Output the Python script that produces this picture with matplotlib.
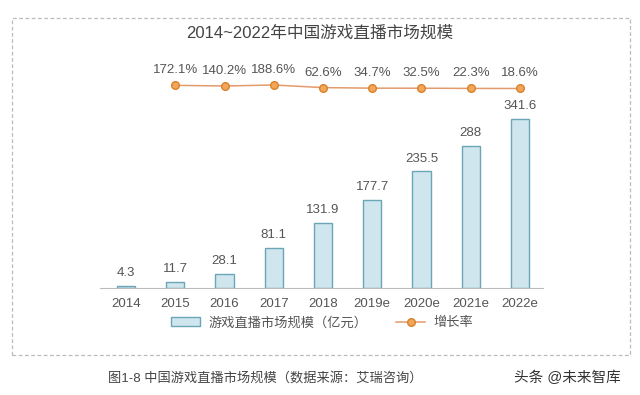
import matplotlib.pyplot as plt
from matplotlib.patches import Rectangle
from matplotlib.lines import Line2D
from matplotlib.patches import Patch

plt.rcParams['font.family'] = ['Liberation Sans', 'Noto Sans CJK SC', 'DejaVu Sans']

# Daten
jahre = ["2014", "2015", "2016", "2017", "2018", "2019e", "2020e", "2021e", "2022e"]
umsatz = [4.3, 11.7, 28.1, 81.1, 131.9, 177.7, 235.5, 288, 341.6]
wachstum = [172.1, 140.2, 188.6, 62.6, 34.7, 32.5, 22.3, 18.6]
wachstum_labels = ["172.1%", "140.2%", "188.6%", "62.6%", "34.7%", "32.5%", "22.3%", "18.6%"]

textfarbe = "#555555"
balken_farbe = "#cfe6ee"
balken_rand = "#6aa6b6"
linien_farbe = "#e39a6c"
punkt_farbe = "#f2a65a"
punkt_rand = "#d9822b"

fig = plt.figure(figsize=(6.4, 3.95), dpi=100)

# gestrichelter Rahmen
fig.patches.append(Rectangle((12 / 640, 1 - 355 / 395), 618 / 640, 337 / 395,
                             transform=fig.transFigure, fill=False,
                             edgecolor="#bbbbbb", linestyle=(0, (3, 2)), linewidth=0.9))

fig.text(0.5, 1 - 33 / 395, "2014~2022年中国游戏直播市场规模", ha="center", va="center",
         fontsize=12, color="#444444")

# Balkendiagramm
ax = fig.add_axes([100 / 640, 1 - 288 / 395, 443 / 640, 188 / 395])
x = list(range(len(jahre)))
bars = ax.bar(x, umsatz, width=0.37, color=balken_farbe, edgecolor=balken_rand, linewidth=1.0)
ax.bar_label(bars, labels=[f"{v:g}" for v in umsatz], padding=5, fontsize=9.5, color=textfarbe)
ax.set_xlim(-0.53, 8.47)
ax.set_ylim(0, 380)
ax.set_xticks(x)
ax.set_xticklabels(jahre, fontsize=9.5, color=textfarbe)
ax.tick_params(axis="x", length=0, pad=7)
ax.set_yticks([])
for s in ["top", "right", "left"]:
    ax.spines[s].set_visible(False)
ax.spines["bottom"].set_color("#bbbbbb")
ax.patch.set_alpha(0)

# Wachstumsrate
ax2 = fig.add_axes([100 / 640, 1 - 95 / 395, 443 / 640, 15 / 395])
ax2.plot(x[1:], wachstum, color=linien_farbe, linewidth=1.1, marker="o", markersize=5.5,
         markerfacecolor=punkt_farbe, markeredgecolor=punkt_rand, markeredgewidth=1.0)
for xi, v, lab in zip(x[1:], wachstum, wachstum_labels):
    ax2.annotate(lab, (xi, v), xytext=(0, 6.5), textcoords="offset points",
                 ha="center", va="bottom", fontsize=9.5, color=textfarbe)
ax2.set_xlim(-0.53, 8.47)
ax2.set_ylim(-297, 431)
ax2.axis("off")

# Legende
handles = [Patch(facecolor=balken_farbe, edgecolor=balken_rand, linewidth=1.0),
           Line2D([0], [0], color=linien_farbe, linewidth=1.1, marker="o", markersize=5.5,
                  markerfacecolor=punkt_farbe, markeredgecolor=punkt_rand)]
fig.legend(handles, ["游戏直播市场规模（亿元）", "增长率"], loc="center",
           bbox_to_anchor=(322 / 640, 1 - 323 / 395), ncol=2, frameon=False,
           fontsize=9.5, labelcolor=textfarbe, handlelength=2.2, handletextpad=0.6,
           columnspacing=2.2)

fig.text(265 / 640, 1 - 378 / 395, "图1-8 中国游戏直播市场规模（数据来源：艾瑞咨询）",
         ha="center", va="center", fontsize=9.5, color="#444444")
fig.text(567 / 640, 1 - 378 / 395, "头条 @未来智库", ha="center", va="center",
         fontsize=10.5, color="#333333")

fig.savefig("out.png", dpi=100)
